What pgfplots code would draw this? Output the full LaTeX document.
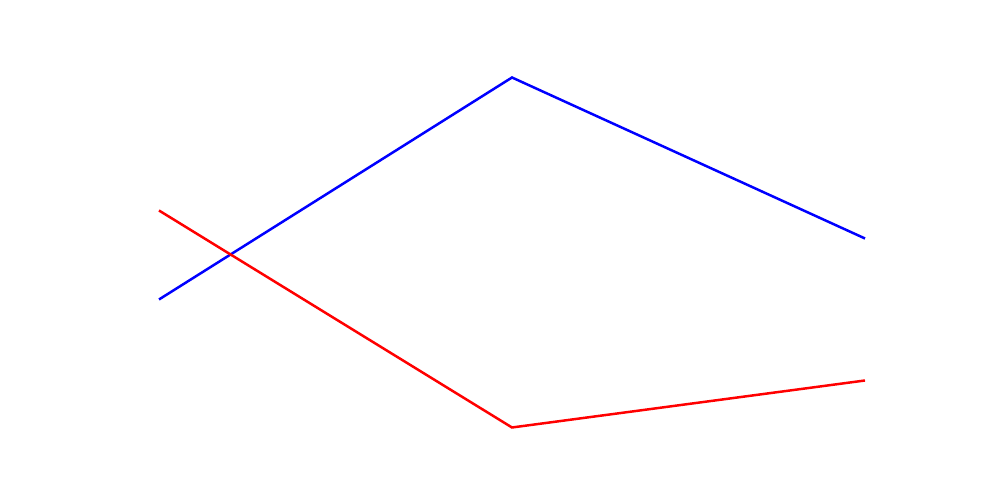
\documentclass[border=0pt]{standalone}
\usepackage{pgfplots}
\pgfplotsset{compat=1.18}
\begin{document}
\begin{tikzpicture}
\begin{axis}[
  scale only axis, width=10in, height=5in,
  hide axis, clip=false,
  xmin=-0.4504, xmax=2.3824,
  ymin=0, ymax=500,
]
\addplot[blue, line width=1.8pt] coordinates {(0,200.5) (1,422.5) (2,261.5)};
\addplot[red, line width=1.8pt] coordinates {(0,289.5) (1,72.5) (2,119.5)};
\end{axis}
\path (current axis.south west) rectangle (current axis.north east);
\end{tikzpicture}
\end{document}
